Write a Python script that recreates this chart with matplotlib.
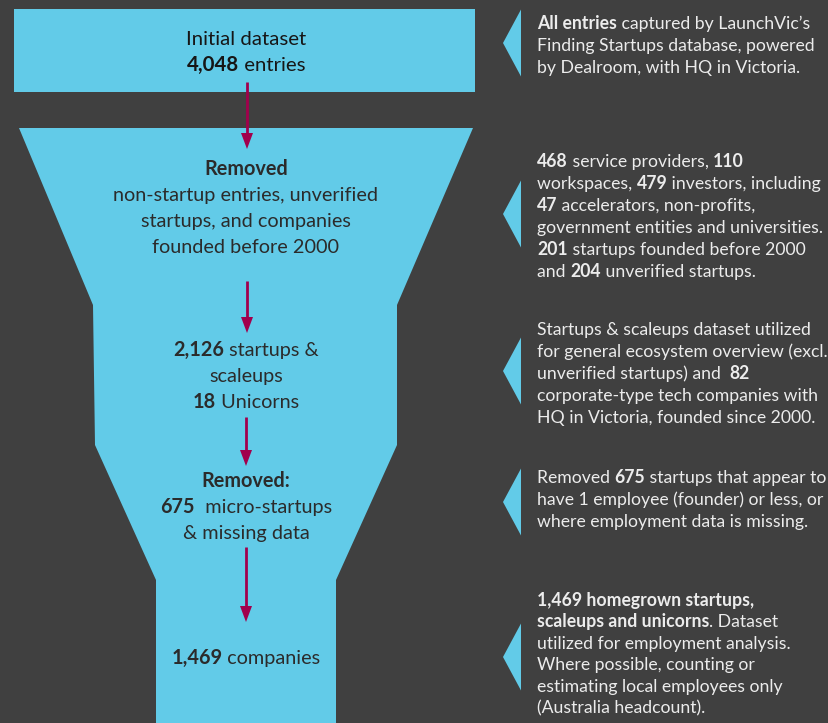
import matplotlib.pyplot as plt
from matplotlib.patches import Polygon, Rectangle

W, H = 829, 723
BG = "#404040"
CYAN = "#62cbe8"
ARROW = "#a1004c"
DARK = "#2b2b2b"
LIGHT = "#ececec"
FONT = "Lato"

# counts shown in the funnel
initial_entries = 4048
startups_scaleups = 2126
unicorns = 18
micro_removed = 675
final_companies = 1469

# breakdown quoted in the side notes
service_providers = 468
workspaces = 110
investors = 479
accelerators = 47
pre_2000 = 201
unverified = 204
corporate_tech = 82

# funnel labels, "**" marks bold runs
stage_labels = [
    ["Initial dataset", f"**{initial_entries:,}** entries"],
    ["**Removed**", "non-startup entries, unverified",
     "startups, and companies", "founded before 2000"],
    [f"**{startups_scaleups:,}** startups &", "scaleups", f"**{unicorns}** Unicorns"],
    ["**Removed:**", f"**{micro_removed}**  micro-startups", "& missing data"],
    [f"**{final_companies:,}** companies"],
]

side_notes = [
    ["**All entries** captured by LaunchVic\u2019s",
     "Finding Startups database, powered",
     "by Dealroom, with HQ in Victoria."],
    [f"**{service_providers}** service providers, **{workspaces}**",
     f"workspaces, **{investors}** investors, including",
     f"**{accelerators}** accelerators, non-profits,",
     "government entities and universities.",
     f"**{pre_2000}** startups founded before 2000",
     f"and **{unverified}** unverified startups."],
    ["Startups & scaleups dataset utilized",
     "for general ecosystem overview (excl.",
     f"unverified startups) and  **{corporate_tech}**",
     "corporate-type tech companies with",
     "HQ in Victoria, founded since 2000."],
    [f"Removed **{micro_removed}** startups that appear to",
     "have 1 employee (founder) or less, or",
     "where employment data is missing."],
    [f"**{final_companies:,} homegrown startups,**",
     "**scaleups and unicorns**. Dataset",
     "utilized for employment analysis.",
     "Where possible, counting or",
     "estimating local employees only",
     "(Australia headcount)."],
]

# layout in pixels (figure drawn 1:1)
stage_baselines = [45, 175, 356, 487, 664]
stage_colors = ["#161616", DARK, DARK, DARK, DARK]
stage_sizes = [14.7, 14.3, 14.3, 14.3, 14.3]
note_baselines = [29, 167, 335, 483, 606]
note_tips = [43, 214, 371, 502, 657]
note_gaps = [22, 22, 22, 22, 21.4]
arrows = [(247, 82, 149), (247, 281, 333), (246, 417, 466), (246, 547, 622)]
funnel = [(19, 128), (473, 128), (397, 305), (397, 445), (336, 580), (336, 723),
          (156, 723), (156, 580), (95, 445), (93, 305)]

fig = plt.figure(figsize=(W / 100, H / 100), dpi=100, facecolor=BG)
ax = fig.add_axes([0, 0, 1, 1])
ax.set_xlim(0, W)
ax.set_ylim(H, 0)
ax.axis("off")
renderer = fig.canvas.get_renderer()


def text_width(s, weight, size):
    # bracket with bars so leading/trailing spaces count
    t = ax.text(0, 0, "|" + s + "|", fontsize=size, fontweight=weight, family=FONT)
    b = ax.text(0, 0, "||", fontsize=size, fontweight=weight, family=FONT)
    w = t.get_window_extent(renderer).width - b.get_window_extent(renderer).width
    t.remove()
    b.remove()
    return w


def rich_line(x, y, markup, size, color, ha="left"):
    parts = [(s, "bold" if i % 2 else "normal") for i, s in enumerate(markup.split("**")) if s]
    widths = [text_width(s, wt, size) for s, wt in parts]
    if ha == "center":
        x -= sum(widths) / 2
    for (s, wt), w in zip(parts, widths):
        ax.text(x, y, s, fontsize=size, fontweight=wt, family=FONT, color=color,
                va="baseline", ha="left")
        x += w


ax.add_patch(Rectangle((14, 9), 461, 83, color=CYAN, lw=0))
ax.add_patch(Polygon(funnel, closed=True, color=CYAN, lw=0))

for x, y0, y1 in arrows:
    ax.plot([x, x], [y0, y1 - 14], color=ARROW, lw=2, solid_capstyle="butt")
    ax.add_patch(Polygon([(x - 6, y1 - 16), (x + 6, y1 - 16), (x, y1)], color=ARROW, lw=0))

for lines, y0, col, size in zip(stage_labels, stage_baselines, stage_colors, stage_sizes):
    for i, line in enumerate(lines):
        rich_line(246, y0 + i * 26, line, size, col, ha="center")

for lines, y0, tip, gap in zip(side_notes, note_baselines, note_tips, note_gaps):
    ax.add_patch(Polygon([(503, tip), (521, tip - 33.5), (521, tip + 33.5)], color=CYAN, lw=0))
    for i, line in enumerate(lines):
        rich_line(537, y0 + i * gap, line, 12.7, LIGHT)

fig.savefig("out.png", dpi=100, facecolor=BG)
